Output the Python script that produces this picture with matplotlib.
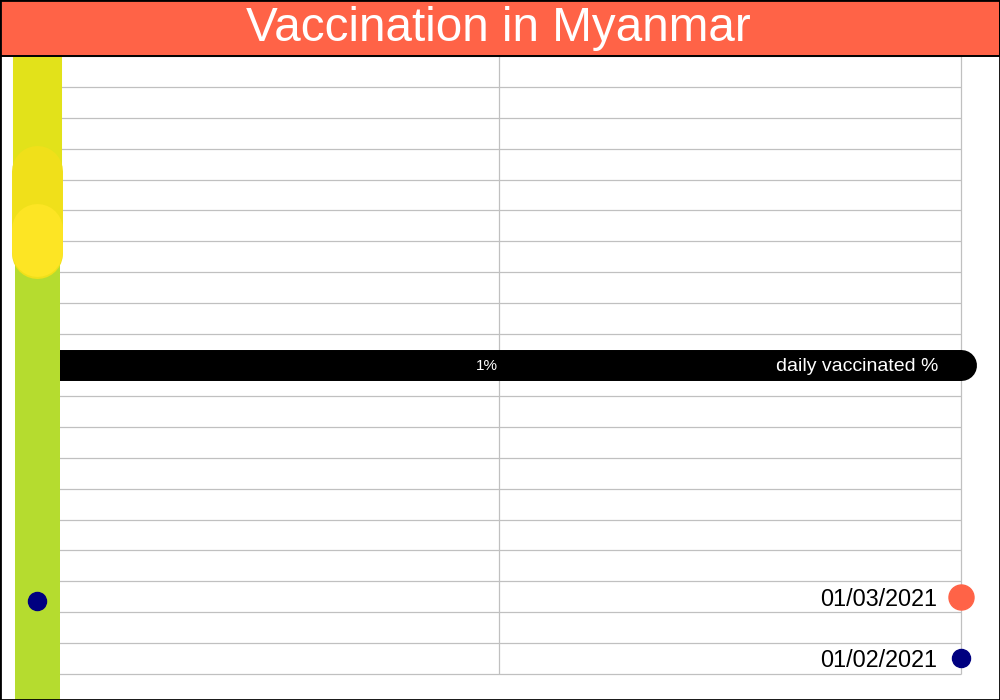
import matplotlib
matplotlib.use('Agg')
import matplotlib.pyplot as plt
from matplotlib.patches import Rectangle
from matplotlib.transforms import offset_copy

# values
title = 'Vaccination in Myanmar'
dates = ['01/02/2021', '01/03/2021']
date_rows = [0.52, 2.49]
date_colors = ['#000080', '#FF6347']
date_sizes = [13, 18]

left_dot_row = 2.36

daily_row = 10
daily_start = 0
daily_end = 2
daily_value_label = '1%'
daily_value_x = 1
daily_name = 'daily vaccinated %'

# vertical strip on the left, drawn in this order
strip_start = [-0.85, 15.0, 13.62, 13.69]
strip_end = [17.0, 20.0, 16.28, 14.40]
strip_colors = ['#B5DC2F', '#E2E21A', '#F0E01A', '#FDE524']
strip_widths = [32.4, 35.3, 36.7, 36.7]
strip_caps = ['butt', 'butt', 'round', 'round']

grid_rows = list(range(21))
grid_cols = [0, 1, 2]

plt.rcParams['font.family'] = ['Liberation Sans', 'DejaVu Sans']

fig = plt.figure(figsize=(10, 7), dpi=100)
fig.patches.append(Rectangle((0, 1 - 56 / 700), 1, 56 / 700, transform=fig.transFigure,
                             facecolor='#FF6347', edgecolor='black', linewidth=1.4, zorder=0))
fig.text(0.4985, 1 - 41 / 700, title, color='white', fontsize=34.3, ha='center', va='baseline')

ax = fig.add_axes([0.037, 26 / 700, 0.924, 618 / 700])
ax.set_xlim(0, 2)
ax.set_ylim(0, 20)
ax.axis('off')

# grid, including the lines on the plot edges
ax.hlines(grid_rows, 0, 2, color='#C0C0C0', linewidth=0.9, zorder=1, clip_on=False)
ax.vlines(grid_cols, 0, 20, color='#C0C0C0', linewidth=0.9, zorder=1, clip_on=False)

# daily vaccinated bar
ax.plot([daily_start, daily_end], [daily_row, daily_row], color='black', linewidth=22.3,
        solid_capstyle='round', zorder=3, clip_on=False)
ax.text(daily_value_x, daily_row, daily_value_label, color='white', fontsize=11,
        ha='right', va='baseline', zorder=4,
        transform=offset_copy(ax.transData, fig=fig, x=-1, y=-5, units='dots'))
ax.text(daily_end, daily_row, daily_name, color='white', fontsize=14,
        ha='right', va='baseline', zorder=4,
        transform=offset_copy(ax.transData, fig=fig, x=-23, y=-6, units='dots'))

# left strip
for y0, y1, c, w, cap in zip(strip_start, strip_end, strip_colors, strip_widths, strip_caps):
    ax.plot([0, 0], [y0, y1], color=c, linewidth=w, solid_capstyle=cap, zorder=5,
            clip_on=False)
ax.plot([0], [left_dot_row], 'o', color='#000080', markersize=13, zorder=6, clip_on=False)

# dates on the right
for d, y, c, sz in zip(dates, date_rows, date_colors, date_sizes):
    ax.plot([2], [y], 'o', color=c, markersize=sz, zorder=6, clip_on=False)
    ax.text(2, y, d, color='black', fontsize=16.8, ha='right', va='baseline', zorder=6,
            transform=offset_copy(ax.transData, fig=fig, x=-24, y=-9, units='dots'))

fig.patches.append(Rectangle((0, 0), 1, 1, transform=fig.transFigure, fill=False,
                             edgecolor='black', linewidth=2, zorder=10))

fig.savefig('out.png', dpi=100)
